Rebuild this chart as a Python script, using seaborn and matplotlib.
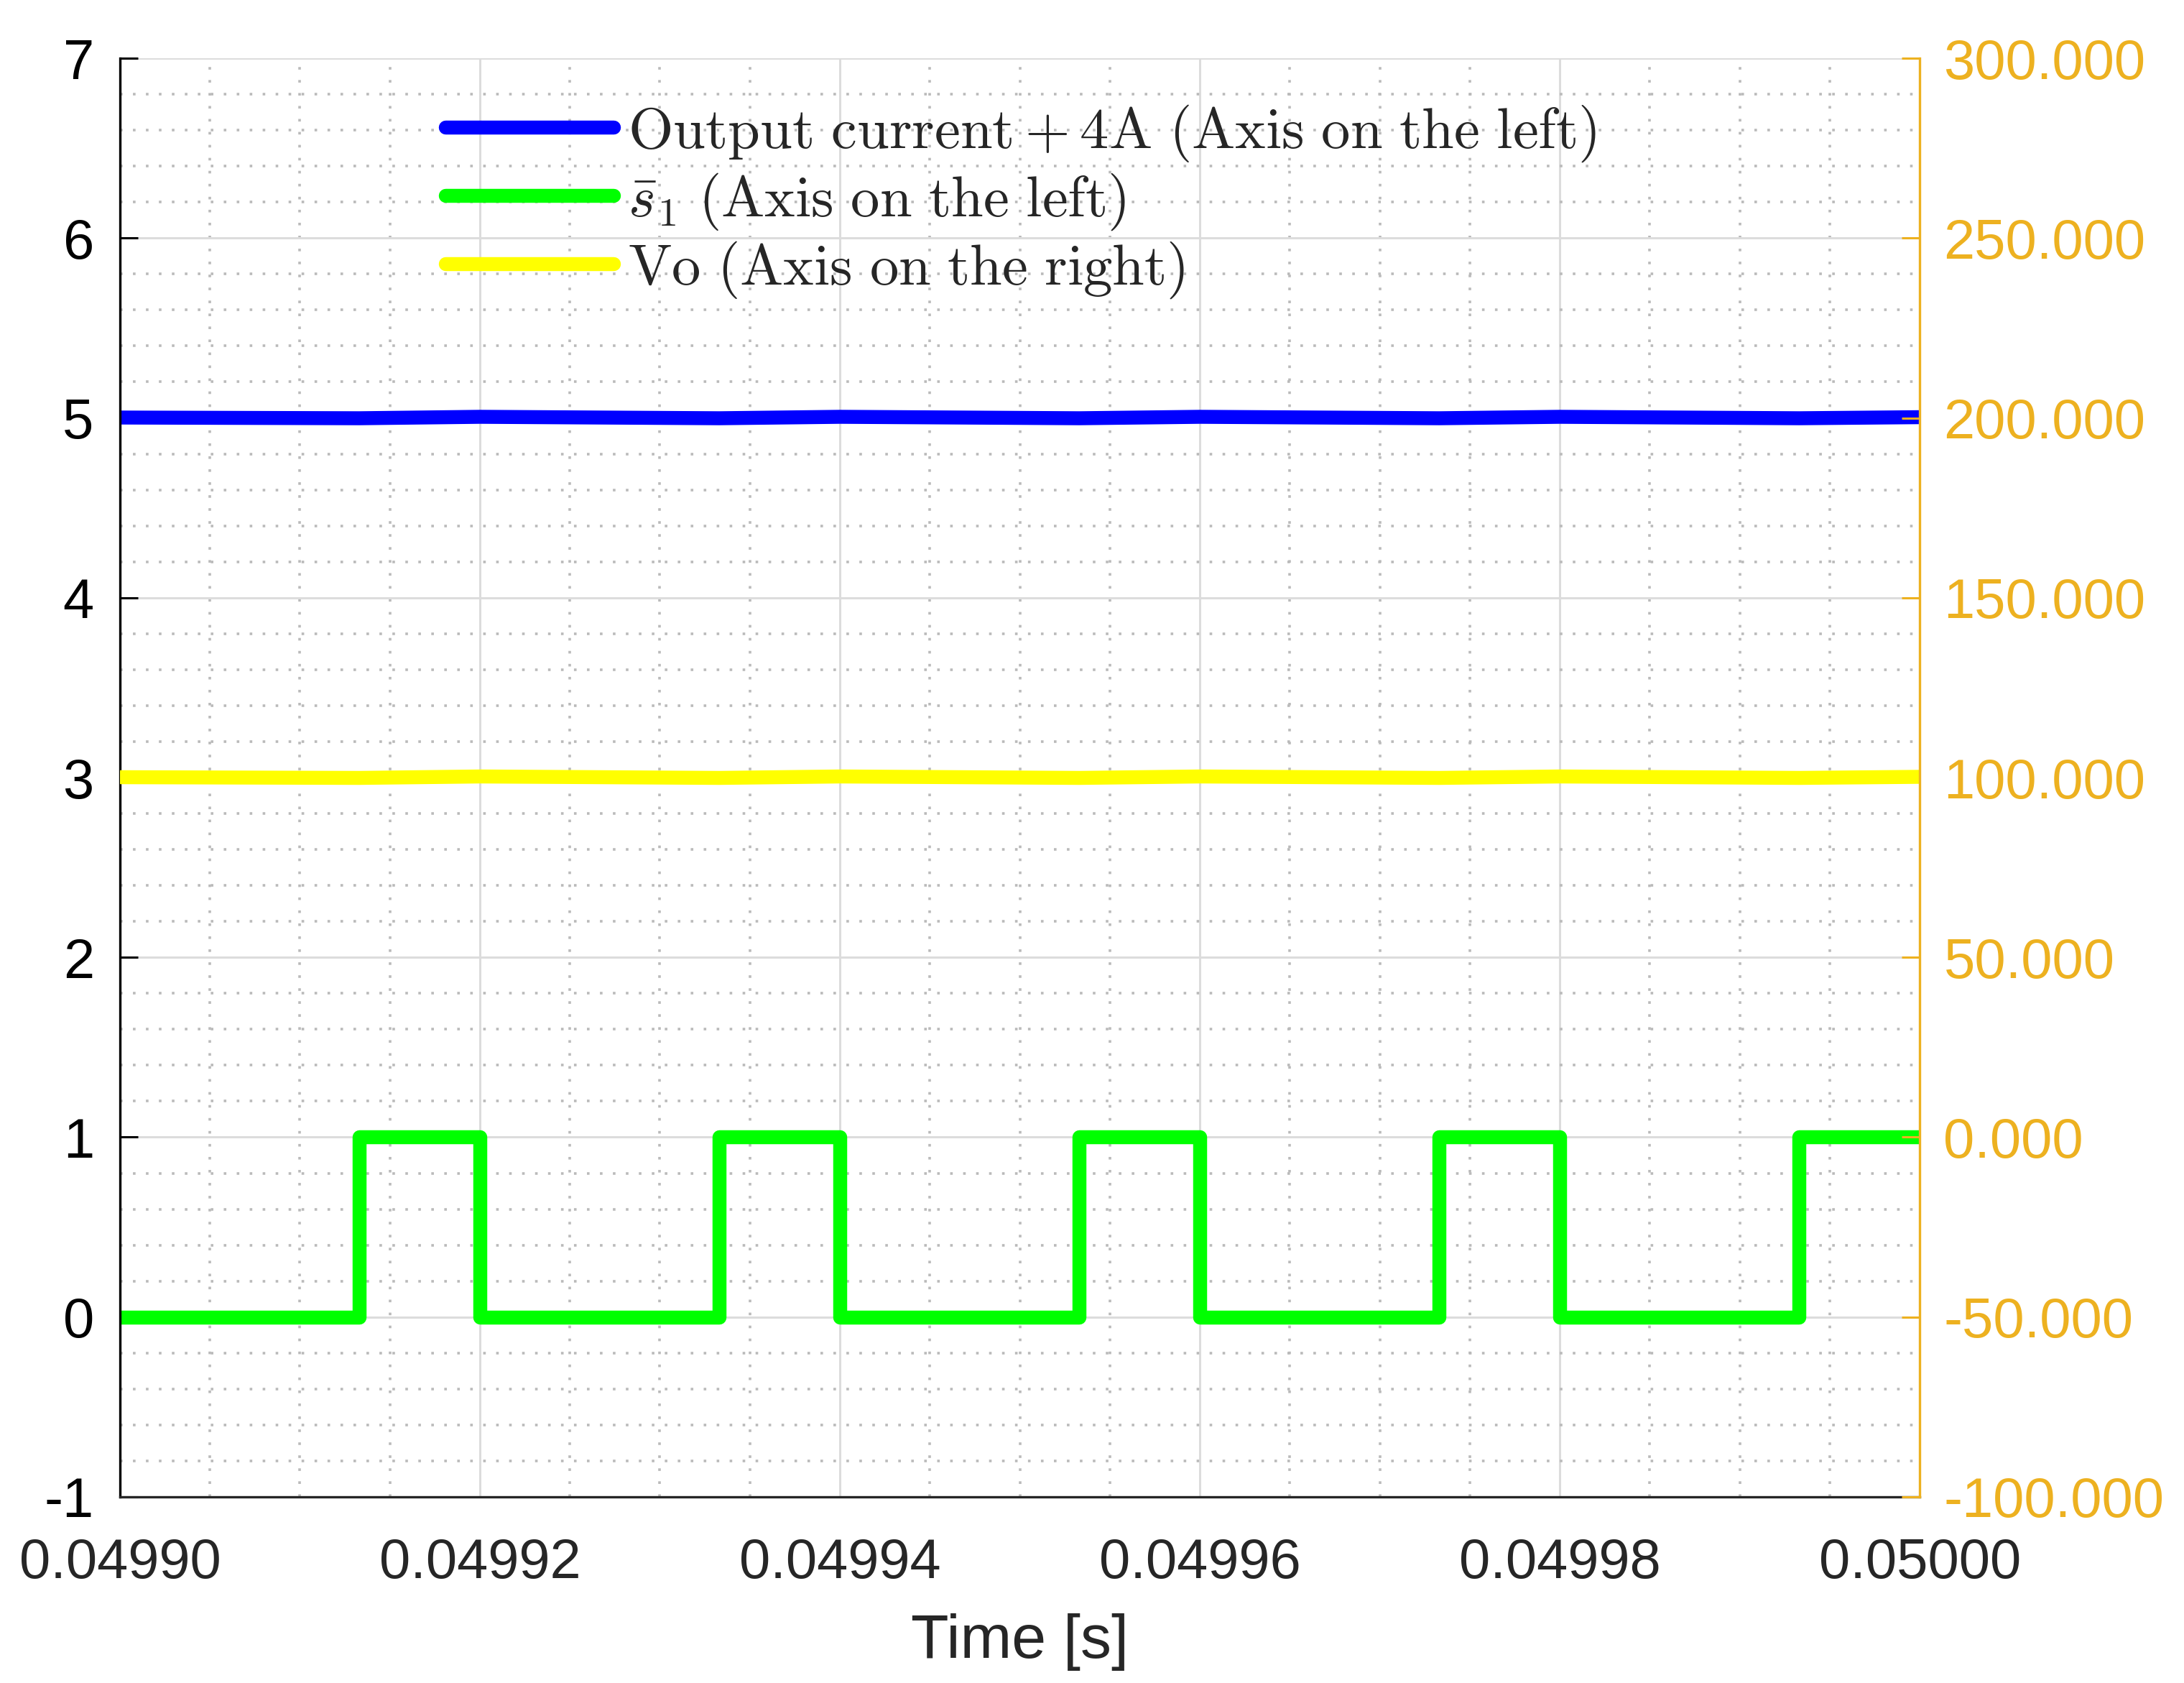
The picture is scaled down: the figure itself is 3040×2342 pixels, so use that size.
import numpy as np
import matplotlib
matplotlib.use("Agg")
import matplotlib.pyplot as plt
from matplotlib.ticker import MultipleLocator, FormatStrFormatter
import seaborn as sns

# switching instants over the last window of the simulation [s]
t = [0.04990, 0.0499133, 0.04992, 0.0499333, 0.04994, 0.0499533,
     0.04996, 0.0499733, 0.04998, 0.0499933, 0.05000]
# output current + 4 A (left axis)
i_out = [5.002, 4.998, 5.006, 4.998, 5.006, 4.998, 5.006, 4.998, 5.006, 4.998, 5.004]
# gate signal s1 bar (left axis)
s1 = [0, 1, 0, 1, 0, 1, 0, 1, 0, 1, 1]
# output voltage Vo (right axis)
vo = [100.1, 99.9, 100.3, 99.9, 100.3, 99.9, 100.3, 99.9, 100.3, 99.9, 100.2]

labels = [r'$\mathrm{Output\ current + 4A\ (Axis\ on\ the\ left)}$',
          r'$\bar{s}_1\ \mathrm{(Axis\ on\ the\ left)}$',
          r'$\mathrm{Vo\ (Axis\ on\ the\ right)}$']

sns.set_style("white")
plt.rcParams['font.family'] = ['Liberation Sans', 'DejaVu Sans']
plt.rcParams['mathtext.fontset'] = 'cm'
plt.rcParams['axes.unicode_minus'] = False

orange = '#EDB120'
dark = '#262626'
lw = 7

fig = plt.figure(figsize=(15.2, 11.71), dpi=200)
ax = fig.add_axes([0.0549, 0.1106, 0.8241, 0.8548])
ax2 = ax.twinx()

sns.lineplot(x=t, y=i_out, ax=ax, color=(0, 0, 1), lw=lw, label=labels[0], legend=False)
sns.lineplot(x=t, y=s1, ax=ax, color=(0, 1, 0), lw=lw, drawstyle='steps-post',
             label=labels[1], legend=False)
sns.lineplot(x=t, y=vo, ax=ax2, color=(1, 1, 0), lw=lw, label=labels[2], legend=False)

ax.set_xlim(0.04990, 0.05000)
ax.set_ylim(-1, 7)
ax2.set_ylim(-100, 300)

ax.xaxis.set_major_locator(MultipleLocator(0.00002))
ax.xaxis.set_minor_locator(MultipleLocator(0.000005))
ax.xaxis.set_major_formatter(FormatStrFormatter('%.5f'))
ax.yaxis.set_major_locator(MultipleLocator(1))
ax.yaxis.set_minor_locator(MultipleLocator(0.2))
ax2.yaxis.set_major_locator(MultipleLocator(50))
ax2.yaxis.set_minor_locator(MultipleLocator(10))
ax2.yaxis.set_major_formatter(FormatStrFormatter('%.3f'))

ax.grid(which='major', color='#dcdcdc', lw=1.1, ls='-')
ax.grid(which='minor', color='#bababa', lw=1.3, ls=(0, (1, 4)))
ax.set_axisbelow(True)

ax.tick_params(axis='x', which='major', direction='in', length=9, width=1.1,
               labelsize=28, pad=20, colors=dark)
ax.tick_params(axis='y', which='major', direction='in', length=9, width=1.1,
               labelsize=28, pad=13, colors='black')
ax.tick_params(which='minor', length=0)
ax2.tick_params(axis='y', which='major', direction='in', length=9, width=1.1,
                labelsize=28, pad=12, colors=orange)
ax2.tick_params(which='minor', length=0)

for a in (ax, ax2):
    a.spines['top'].set_visible(False)
ax.spines['left'].set_color('black')
ax.spines['bottom'].set_color(dark)
ax.spines['right'].set_visible(False)
ax2.spines['left'].set_visible(False)
ax2.spines['bottom'].set_visible(False)
ax2.spines['right'].set_color(orange)
for s in ('left', 'bottom'):
    ax.spines[s].set_linewidth(1.2)
ax2.spines['right'].set_linewidth(1.2)

ax.set_xlabel('Time [s]', fontsize=31, color=dark, labelpad=12)
ax.set_ylabel('')
ax2.set_ylabel('')

handles = ax.get_lines()[:2] + ax2.get_lines()[:1]
leg = ax2.legend(handles, labels, loc='upper left', bbox_to_anchor=(0.181, 0.969),
                 frameon=False, fontsize=29, handlelength=2.9, handletextpad=0.25,
                 labelspacing=0.13, borderpad=0, borderaxespad=0)
for h in leg.get_lines():
    h.set_linewidth(lw)

fig.savefig('out.png', dpi=200)
